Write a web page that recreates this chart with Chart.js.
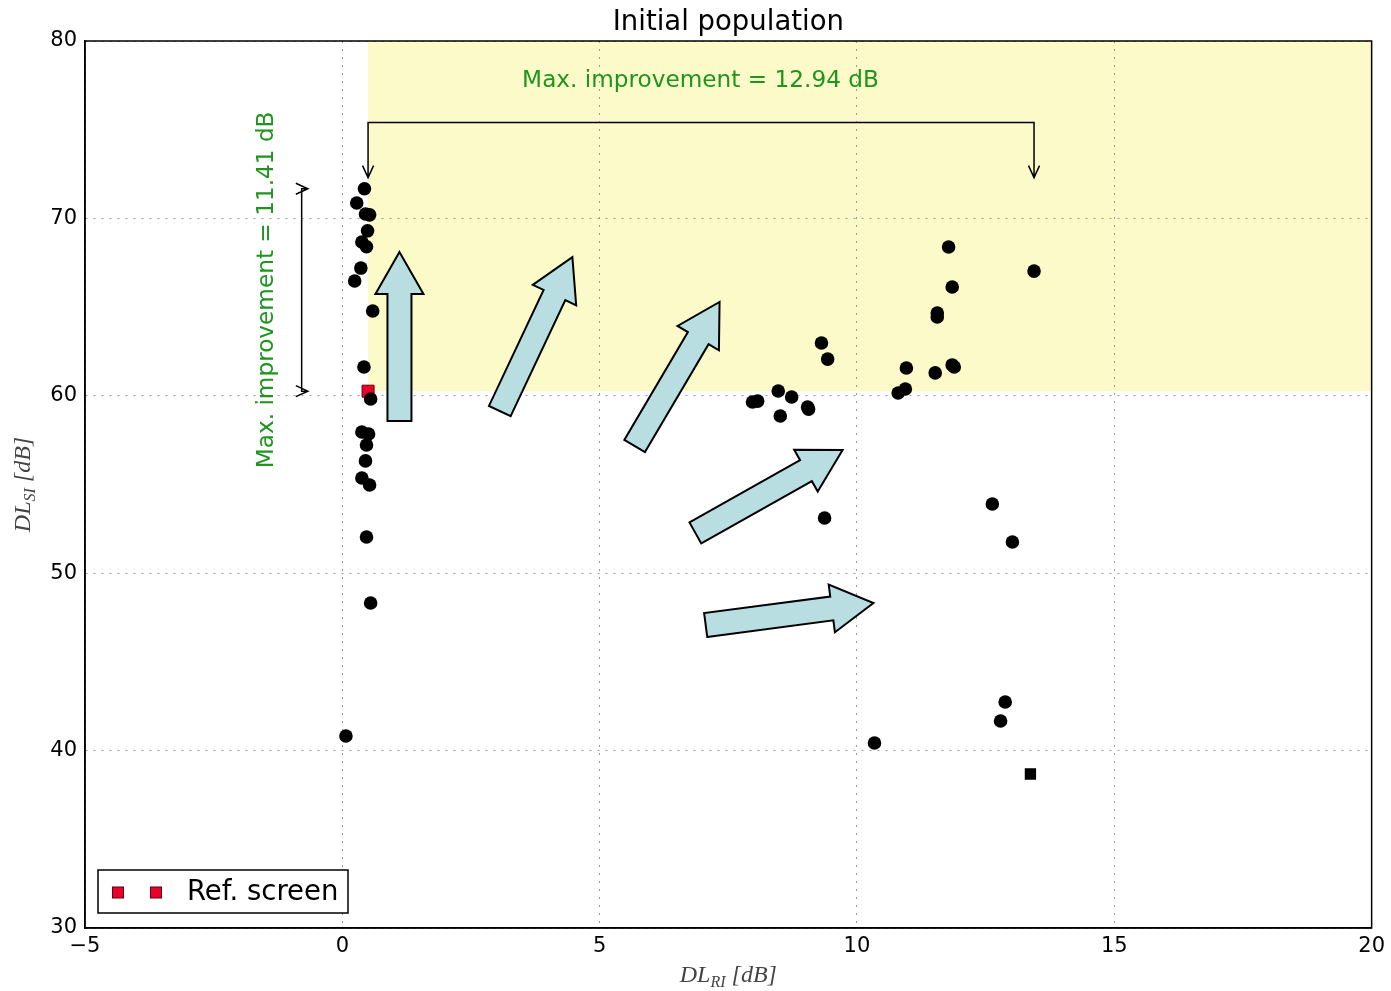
<!DOCTYPE html>
<html>
<head>
<meta charset="utf-8">
<title>Initial population</title>
<script src="https://cdn.jsdelivr.net/npm/chart.js@4/dist/chart.umd.min.js"></script>
<style>
html, body { margin: 0; padding: 0; background: #fff; }
</style>
</head>
<body>
<canvas id="population" width="1391" height="991"></canvas>
<script>
// individuals of the initial population (DL_RI, DL_SI)
const popX = [0.43, 0.28, 0.45, 0.53, 0.49, 0.38, 0.47, 0.36, 0.24, 0.59, 0.42, 0.55, 0.38, 0.51, 0.47, 0.45, 0.38, 0.53, 0.47, 0.55, 0.07,
    7.97, 8.07, 8.47, 8.73, 9.04, 9.06, 8.51, 9.31, 9.43, 9.37, 10.34,
    10.80, 10.94, 10.96, 11.52, 11.56, 11.56, 11.85, 11.89, 11.78, 11.85, 13.44, 12.63, 13.02, 12.88, 12.79]
const popY = [71.67, 70.87, 70.25, 70.20, 69.30, 68.67, 68.40, 67.20, 66.47, 64.78, 61.62, 59.82, 57.96, 57.85, 57.23, 56.33, 55.37, 54.97, 52.04, 48.32, 40.82,
    59.65, 59.70, 60.27, 59.93, 59.37, 59.25, 58.86, 62.98, 62.07, 53.11, 40.43,
    60.16, 60.38, 61.57, 61.29, 64.67, 64.44, 61.74, 61.62, 68.39, 66.13, 67.03, 53.90, 51.76, 42.74, 41.67]

// one individual plotted with a square marker
const sqX = [13.37]
const sqY = [38.68]

// reference screen
const refX = [0.50]
const refY = [60.26]

const xTicks = [-5, 0, 5, 10, 15, 20]
const yTicks = [30, 40, 50, 60, 70, 80]

// best values in each direction -> improvement brackets
const bestX = 13.44
const bestY = 71.67
const bracketTop = 75.4      // y of the horizontal bar
const bracketTipY = 72.3     // y where its arrows end
const bracketLeft = -0.79    // x of the vertical bar
const bracketTipX = -0.67
const labelH = { text: 'Max. improvement = 12.94 dB', x: 6.96, y: 77.75 }
const labelV = { text: 'Max. improvement = 11.41 dB', x: -1.47, y: 65.97 }

// direction arrows
const arrowTailX = [1.11, 3.06, 5.68, 6.86, 7.06]
const arrowTailY = [58.58, 59.14, 57.17, 52.27, 47.08]
const arrowTipX = [1.11, 4.47, 7.33, 9.72, 10.32]
const arrowTipY = [68.11, 67.82, 65.29, 56.94, 48.32]

const GREEN = '#1f951f'
const ARROW_FILL = '#b9dee1'

function toPoints(xs, ys) {
    return xs.map((x, i) => ({ x: x, y: ys[i] }))
}

function openHead(ctx, tx, ty, ux, uy, len, half) {
    let bx = tx - ux * len, by = ty - uy * len
    ctx.moveTo(bx - uy * half, by + ux * half)
    ctx.lineTo(tx, ty)
    ctx.lineTo(bx + uy * half, by - ux * half)
}

function bigArrow(ctx, x0, y0, x1, y1) {
    let dx = x1 - x0, dy = y1 - y0
    let l = Math.hypot(dx, dy)
    let ux = dx / l, uy = dy / l
    let nx = -uy, ny = ux
    let hw = 12, HW = 24, hl = 42
    let bx = x1 - ux * hl, by = y1 - uy * hl
    ctx.beginPath()
    ctx.moveTo(x0 + nx * hw, y0 + ny * hw)
    ctx.lineTo(bx + nx * hw, by + ny * hw)
    ctx.lineTo(bx + nx * HW, by + ny * HW)
    ctx.lineTo(x1, y1)
    ctx.lineTo(bx - nx * HW, by - ny * HW)
    ctx.lineTo(bx - nx * hw, by - ny * hw)
    ctx.lineTo(x0 - nx * hw, y0 - ny * hw)
    ctx.closePath()
    ctx.fillStyle = ARROW_FILL
    ctx.fill()
    ctx.lineWidth = 2
    ctx.strokeStyle = '#000'
    ctx.lineJoin = 'miter'
    ctx.stroke()
}

// draws text with an italic subscript like DL_RI [dB]
function mathLabel(ctx, main, sub, rest, x, y) {
    let big = 'italic 24px "Liberation Serif"', small = 'italic 16px "Liberation Serif"'
    ctx.font = big
    let w1 = ctx.measureText(main).width
    let w3 = ctx.measureText(rest).width
    ctx.font = small
    let w2 = ctx.measureText(sub).width
    let sx = x - (w1 + w2 + w3) / 2
    ctx.textAlign = 'left'
    ctx.textBaseline = 'alphabetic'
    ctx.font = big
    ctx.fillText(main, sx, y)
    ctx.font = small
    ctx.fillText(sub, sx + w1, y + 5)
    ctx.font = big
    ctx.fillText(rest, sx + w1 + w2, y)
}

const annotate = {
    id: 'annotate',
    beforeDraw(chart) {
        // region that beats the reference on both criteria
        let { ctx, chartArea, scales: { x, y } } = chart
        let left = x.getPixelForValue(refX[0])
        let bottom = y.getPixelForValue(refY[0])
        ctx.save()
        ctx.fillStyle = '#fcfac8'
        ctx.fillRect(left, chartArea.top, chartArea.right - left, bottom - chartArea.top)
        ctx.restore()
    },
    afterDatasetsDraw(chart) {
        let { ctx, chartArea, scales: { x, y } } = chart
        ctx.save()

        for (let i = 0; i < arrowTailX.length; i++) {
            bigArrow(ctx, x.getPixelForValue(arrowTailX[i]), y.getPixelForValue(arrowTailY[i]),
                x.getPixelForValue(arrowTipX[i]), y.getPixelForValue(arrowTipY[i]))
        }

        // horizontal improvement bracket
        ctx.strokeStyle = '#000'
        ctx.lineWidth = 1.5
        ctx.lineJoin = 'miter'
        let xa = x.getPixelForValue(refX[0]), xb = x.getPixelForValue(bestX)
        let yBar = y.getPixelForValue(bracketTop), yTip = y.getPixelForValue(bracketTipY)
        ctx.beginPath()
        ctx.moveTo(xa, yTip)
        ctx.lineTo(xa, yBar)
        ctx.lineTo(xb, yBar)
        ctx.lineTo(xb, yTip)
        openHead(ctx, xa, yTip, 0, 1, 12, 5.5)
        openHead(ctx, xb, yTip, 0, 1, 12, 5.5)
        ctx.stroke()

        // vertical improvement bracket
        let xBar = x.getPixelForValue(bracketLeft), xTip = x.getPixelForValue(bracketTipX)
        let ya = y.getPixelForValue(bestY), yb = y.getPixelForValue(refY[0])
        ctx.beginPath()
        ctx.moveTo(xTip, ya)
        ctx.lineTo(xBar, ya)
        ctx.lineTo(xBar, yb)
        ctx.lineTo(xTip, yb)
        openHead(ctx, xTip, ya, 1, 0, 12, 5.5)
        openHead(ctx, xTip, yb, 1, 0, 12, 5.5)
        ctx.stroke()

        ctx.fillStyle = GREEN
        ctx.font = '23.2px "DejaVu Sans"'
        ctx.textAlign = 'center'
        ctx.textBaseline = 'middle'
        ctx.fillText(labelH.text, x.getPixelForValue(labelH.x), y.getPixelForValue(labelH.y))
        ctx.save()
        ctx.translate(x.getPixelForValue(labelV.x), y.getPixelForValue(labelV.y))
        ctx.rotate(-Math.PI / 2)
        ctx.fillText(labelV.text, 0, 0)
        ctx.restore()

        // frame
        ctx.strokeStyle = '#000'
        ctx.lineWidth = 1.5
        ctx.strokeRect(chartArea.left, chartArea.top, chartArea.right - chartArea.left, chartArea.bottom - chartArea.top)

        // title, centred over the axes
        ctx.fillStyle = '#000'
        ctx.font = '27.5px "DejaVu Sans"'
        ctx.textAlign = 'center'
        ctx.textBaseline = 'middle'
        ctx.fillText('Initial population', (chartArea.left + chartArea.right) / 2, chartArea.top - 18)

        // legend, lower left
        let lx = chartArea.left + 13, ly = chartArea.bottom - 58
        ctx.fillStyle = '#fff'
        ctx.fillRect(lx, ly, 250, 43)
        ctx.lineWidth = 1.5
        ctx.strokeRect(lx, ly, 250, 43)
        let ds = chart.data.datasets[2]
        for (let sx of [lx + 20, lx + 58]) {
            ctx.fillStyle = ds.backgroundColor
            ctx.fillRect(sx - 5.5, ly + 17, 11, 11)
            ctx.strokeStyle = ds.borderColor
            ctx.lineWidth = 1
            ctx.strokeRect(sx - 5.5, ly + 17, 11, 11)
        }
        ctx.fillStyle = '#000'
        ctx.font = '27.5px "DejaVu Sans"'
        ctx.textAlign = 'left'
        ctx.textBaseline = 'middle'
        ctx.fillText(ds.label, lx + 89, ly + 23)

        // axis titles
        ctx.fillStyle = '#444'
        mathLabel(ctx, 'DL', 'RI', ' [dB]', (chartArea.left + chartArea.right) / 2, 982)
        ctx.save()
        ctx.translate(30, (chartArea.top + chartArea.bottom) / 2)
        ctx.rotate(-Math.PI / 2)
        mathLabel(ctx, 'DL', 'SI', ' [dB]', 0, 0)
        ctx.restore()

        ctx.restore()
    }
}

const tickFont = { family: 'DejaVu Sans', size: 21 }

let populationChart = new Chart(document.getElementById('population'), {
    type: 'scatter',
    data: {
        datasets: [{
            label: 'Population',
            data: toPoints(popX, popY),
            pointStyle: 'circle',
            pointRadius: 6.8,
            backgroundColor: '#000',
            borderColor: '#000',
            borderWidth: 0
        }, {
            label: 'Population (square)',
            data: toPoints(sqX, sqY),
            pointStyle: 'rect',
            pointRadius: 8,
            backgroundColor: '#000',
            borderColor: '#000',
            borderWidth: 0
        }, {
            label: 'Ref. screen',
            data: toPoints(refX, refY),
            pointStyle: 'rect',
            pointRadius: 8.5,
            backgroundColor: '#e8022c',
            borderColor: '#600010',
            borderWidth: 1
        }]
    },
    options: {
        responsive: false,
        animation: false,
        layout: { padding: { left: 0, right: 18, top: 41, bottom: 0 } },
        plugins: {
            legend: { display: false },
            tooltip: { enabled: false },
            title: { display: false }
        },
        scales: {
            x: {
                type: 'linear',
                min: xTicks[0],
                max: xTicks[xTicks.length - 1],
                afterBuildTicks(s) { s.ticks = xTicks.map(v => ({ value: v })) },
                ticks: {
                    color: '#000', font: tickFont, padding: 6, maxRotation: 0,
                    callback: v => String(v).replace('-', '\u2212')
                },
                grid: { color: '#9a9a9a', lineWidth: 1, drawTicks: false },
                border: { display: true, color: '#000', width: 1.5, dash: [2, 6] },
                afterFit(s) { s.height = 63 }
            },
            y: {
                type: 'linear',
                min: yTicks[0],
                max: yTicks[yTicks.length - 1],
                afterBuildTicks(s) { s.ticks = yTicks.map(v => ({ value: v })) },
                ticks: { color: '#000', font: tickFont, padding: 8 },
                grid: { color: '#9a9a9a', lineWidth: 1, drawTicks: false },
                border: { display: true, color: '#000', width: 1.5, dash: [2, 6] },
                afterFit(s) { s.width = 85 }
            }
        }
    },
    plugins: [annotate]
})
</script>
</body>
</html>
